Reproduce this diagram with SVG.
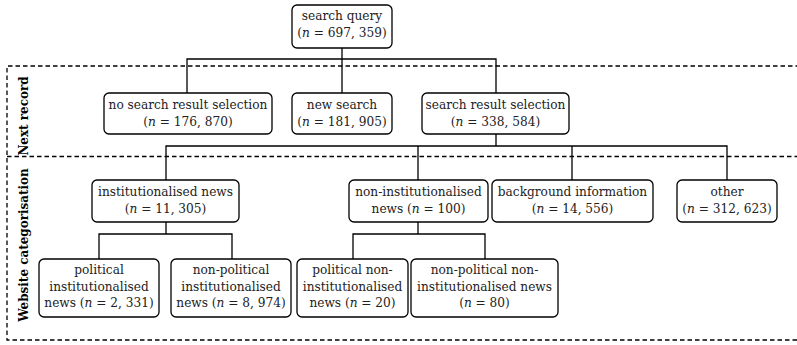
<svg xmlns="http://www.w3.org/2000/svg" width="797" height="345" viewBox="0 0 797 345">
<style>
.box{fill:#fff;stroke:#000;stroke-width:1.3}
.t{font-family:"DejaVu Serif Condensed","DejaVu Serif",serif;font-stretch:condensed;font-size:13.5px;fill:#222;text-anchor:middle}
.i{font-style:italic}
.lab{font-family:"DejaVu Serif Condensed","DejaVu Serif",serif;font-stretch:condensed;font-size:13.3px;font-weight:bold;fill:#000;text-anchor:middle}
.con{fill:none;stroke:#000;stroke-width:1.3}
.dash{fill:none;stroke:#000;stroke-width:1.3;stroke-dasharray:4.5 3}
</style>
<g id="regions">
<path class="dash" d="M800,66 H7 V340 H800"/>
<path class="dash" d="M7,156.5 H800"/>
<text class="lab" transform="translate(27.5,116) rotate(-90)">Next record</text>
<text class="lab" transform="translate(27.5,245) rotate(-90)">Website categorisation</text>
</g>
<g id="connectors">
<path class="con" d="M342,48 V59 M187,93 V59 H496 V93 M342,59 V93"/>
<path class="con" d="M496,134 V146 M166,180 V146 H727 V180 M418,146 V180 M572,146 V180"/>
<path class="con" d="M166,222 V234 M99,259 V234 H232 V259"/>
<path class="con" d="M418,222 V234 M353,259 V234 H485 V259"/>
</g>
<g id="n-query"><rect class="box" x="292" y="5" width="100" height="43" rx="5"/><text class="t" x="342" y="20">search query</text><text class="t" x="342" y="37">(<tspan class="i">n</tspan> = 697, 359)</text></g>
<g id="n-nosel"><rect class="box" x="104" y="93" width="168" height="41" rx="5"/><text class="t" x="188" y="109">no search result selection</text><text class="t" x="188" y="126">(<tspan class="i">n</tspan> = 176, 870)</text></g>
<g id="n-new"><rect class="box" x="292" y="93" width="100" height="41" rx="5"/><text class="t" x="342" y="109">new search</text><text class="t" x="342" y="126">(<tspan class="i">n</tspan> = 181, 905)</text></g>
<g id="n-sel"><rect class="box" x="422" y="93" width="147" height="41" rx="5"/><text class="t" x="495.5" y="109">search result selection</text><text class="t" x="495.5" y="126">(<tspan class="i">n</tspan> = 338, 584)</text></g>
<g id="n-inst"><rect class="box" x="92" y="180" width="147" height="42" rx="5"/><text class="t" x="165.5" y="196">institutionalised news</text><text class="t" x="165.5" y="213">(<tspan class="i">n</tspan> = 11, 305)</text></g>
<g id="n-noninst"><rect class="box" x="349" y="180" width="139" height="42" rx="5"/><text class="t" x="418.5" y="196">non-institutionalised</text><text class="t" x="418.5" y="213">news (<tspan class="i">n</tspan> = 100)</text></g>
<g id="n-bg"><rect class="box" x="492" y="180" width="161" height="42" rx="5"/><text class="t" x="572.5" y="196">background information</text><text class="t" x="572.5" y="213">(<tspan class="i">n</tspan> = 14, 556)</text></g>
<g id="n-other"><rect class="box" x="677" y="180" width="100" height="42" rx="5"/><text class="t" x="727" y="196">other</text><text class="t" x="727" y="213">(<tspan class="i">n</tspan> = 312, 623)</text></g>
<g id="n-polinst"><rect class="box" x="39" y="259" width="120" height="58" rx="5"/><text class="t" x="99" y="274">political</text><text class="t" x="99" y="291">institutionalised</text><text class="t" x="99" y="307">news (<tspan class="i">n</tspan> = 2, 331)</text></g>
<g id="n-nonpolinst"><rect class="box" x="171" y="259" width="120" height="58" rx="5"/><text class="t" x="231" y="274">non-political</text><text class="t" x="231" y="291">institutionalised</text><text class="t" x="231" y="307">news (<tspan class="i">n</tspan> = 8, 974)</text></g>
<g id="n-polnon"><rect class="box" x="297" y="259" width="111" height="58" rx="5"/><text class="t" x="352.5" y="274">political non-</text><text class="t" x="352.5" y="291">institutionalised</text><text class="t" x="352.5" y="307">news (<tspan class="i">n</tspan> = 20)</text></g>
<g id="n-nonpolnon"><rect class="box" x="411" y="259" width="147" height="58" rx="5"/><text class="t" x="484.5" y="274">non-political non-</text><text class="t" x="484.5" y="291">institutionalised news</text><text class="t" x="484.5" y="307">(<tspan class="i">n</tspan> = 80)</text></g>
</svg>
